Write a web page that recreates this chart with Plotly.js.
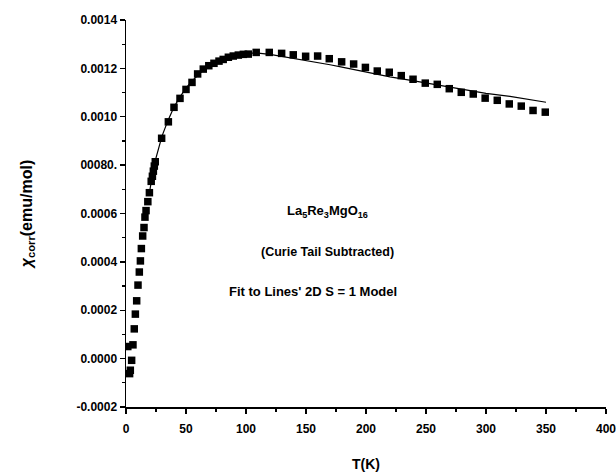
<!DOCTYPE html>
<html>
<head>
<meta charset="utf-8">
<script src="https://cdn.plot.ly/plotly-3.0.1.min.js"></script>
<style>html,body{margin:0;padding:0;background:#fff;}#chart{width:616px;height:475px;}</style>
</head>
<body>
<div id="chart"></div>
<script>
// Measured data (T in K, chi_corr in emu/mol)
const dataT = [1.5, 3.0, 3.6, 4.7, 5.8, 6.9, 7.8, 8.9, 10.0, 11.1, 12.0, 12.8, 13.9, 15.0, 15.8, 16.7, 18.2, 19.5,
  21.0, 22.0, 22.8, 23.6, 24.4, 29.7, 35.3, 40.0, 45.0, 50.0, 55.0, 59.7, 64.4, 69.0, 73.3, 77.5, 81.0, 85.3, 89.4,
  93.6, 97.8, 101.9, 108.5, 119.4, 129.7, 139.4, 149.7, 159.7, 169.4, 179.7, 189.7, 199.5, 209.4, 219.4, 229.4,
  239.2, 249.4, 259.4, 269.4, 279.4, 289.4, 299.3, 309.4, 319.4, 329.4, 339.2, 349.4];
const dataChi = [0.000050, -0.000062, -0.000048, -0.000007, 0.000057, 0.000123, 0.000184, 0.000239, 0.000304, 0.000358,
  0.000404, 0.000455, 0.000507, 0.000542, 0.000585, 0.000612, 0.000649, 0.000686,
  0.000733, 0.000754, 0.000775, 0.000796, 0.000814, 0.000911, 0.000979, 0.001039, 0.001076, 0.001113, 0.001142,
  0.001177, 0.001197, 0.001211, 0.001221, 0.001230, 0.001237, 0.001246, 0.001251, 0.001255, 0.001258, 0.001259,
  0.001266, 0.001266, 0.001262, 0.001256, 0.001250, 0.001251, 0.001240, 0.001227, 0.001218, 0.001204, 0.001189,
  0.001184, 0.001170, 0.001155, 0.001139, 0.001134, 0.001116, 0.001101, 0.001094, 0.001077, 0.001068, 0.001053,
  0.001044, 0.001026, 0.001019];

// Fit curve (Lines' 2D S = 1 model)
const fitT = [20, 22, 25, 30, 35, 40, 45, 50, 55, 60, 65, 70, 75, 80, 85, 90, 95, 100, 105, 110, 120, 130, 140,
  150, 160, 170, 180, 190, 200, 220, 240, 260, 280, 300, 320, 340, 350];
const fitChi = [0.000700, 0.000760, 0.000830, 0.000920, 0.000985, 0.001040, 0.001082, 0.001118, 0.001148, 0.001174,
  0.001196, 0.001214, 0.001229, 0.001241, 0.001250, 0.001256, 0.001260, 0.001263, 0.001264, 0.001263, 0.001258,
  0.001250, 0.001241, 0.001233, 0.001224, 0.001215, 0.001205, 0.001195, 0.001182, 0.001165, 0.001148, 0.001131,
  0.001114, 0.001097, 0.001084, 0.001068, 0.001060];

const yTickVals = [-0.0002, 0.0000, 0.0002, 0.0004, 0.0006, 0.0008, 0.0010, 0.0012, 0.0014];
const yTickText = ['-0.0002', '0.0000', '0.0002', '0.0004', '0.0006', '00080.', '0.0010', '0.0012', '0.0014'];
const xTickVals = [0, 50, 100, 150, 200, 250, 300, 350, 400];
const xTickText = ['0', '50', '100', '150', '200', '250', '300', '350', '400'];

const FONT = 'Liberation Sans, Arial, Helvetica, sans-serif';

const traces = [
  {
    x: fitT, y: fitChi, type: 'scatter', mode: 'lines',
    line: {color: '#000', width: 1.2}, hoverinfo: 'skip', showlegend: false
  },
  {
    x: dataT, y: dataChi, type: 'scatter', mode: 'markers',
    marker: {symbol: 'square', size: 7.5, color: '#000', line: {width: 0}}, showlegend: false
  }
];

const axisCommon = {
  showgrid: false, zeroline: false, showline: true, linecolor: '#000', linewidth: 1.5,
  ticks: 'outside', ticklen: 5, tickwidth: 1.3, tickcolor: '#000', tickmode: 'array',
  ticklabeloverflow: 'allow',
  tickfont: {family: FONT, size: 12, color: '#000', weight: 'bold'}
};

const layout = {
  width: 616, height: 475,
  margin: {l: 126, r: 10, t: 20, b: 68},
  paper_bgcolor: '#fff', plot_bgcolor: '#fff',
  xaxis: Object.assign({}, axisCommon, {
    range: [0, 400], tickvals: xTickVals, ticktext: xTickText, ticklabelstandoff: 5,
    minor: {tickmode: 'linear', tick0: 0, dtick: 25, ticks: 'outside', ticklen: 3, tickwidth: 1.2, tickcolor: '#000'},
    title: {text: 'T(K)', font: {family: FONT, size: 14, color: '#000', weight: 'bold'}, standoff: 24}
  }),
  yaxis: Object.assign({}, axisCommon, {
    range: [-0.0002, 0.0014], tickvals: yTickVals, ticktext: yTickText,
    minor: {tickmode: 'linear', tick0: -0.0002, dtick: 0.0001, ticks: 'outside', ticklen: 3, tickwidth: 1.2, tickcolor: '#000'},
    title: {text: '<i>χ</i><sub>corr</sub>(emu/mol)', font: {family: FONT, size: 16, color: '#000', weight: 'bold'}, standoff: 40}
  }),
  annotations: [
    {text: 'La<sub>5</sub>Re<sub>3</sub>MgO<sub>16</sub>', xref: 'paper', yref: 'paper', x: 0.42, y: 0.505,
     showarrow: false, font: {family: FONT, size: 13, color: '#000', weight: 'bold'}},
    {text: '(Curie Tail Subtracted)', xref: 'paper', yref: 'paper', x: 0.42, y: 0.40,
     showarrow: false, font: {family: FONT, size: 12.5, color: '#000', weight: 'bold'}},
    {text: "Fit to Lines' 2D S = 1 Model", xref: 'paper', yref: 'paper', x: 0.39, y: 0.275,
     showarrow: false, font: {family: FONT, size: 13, color: '#000', weight: 'bold'}}
  ]
};

Plotly.newPlot('chart', traces, layout, {displayModeBar: false, staticPlot: true});
</script>
</body>
</html>
